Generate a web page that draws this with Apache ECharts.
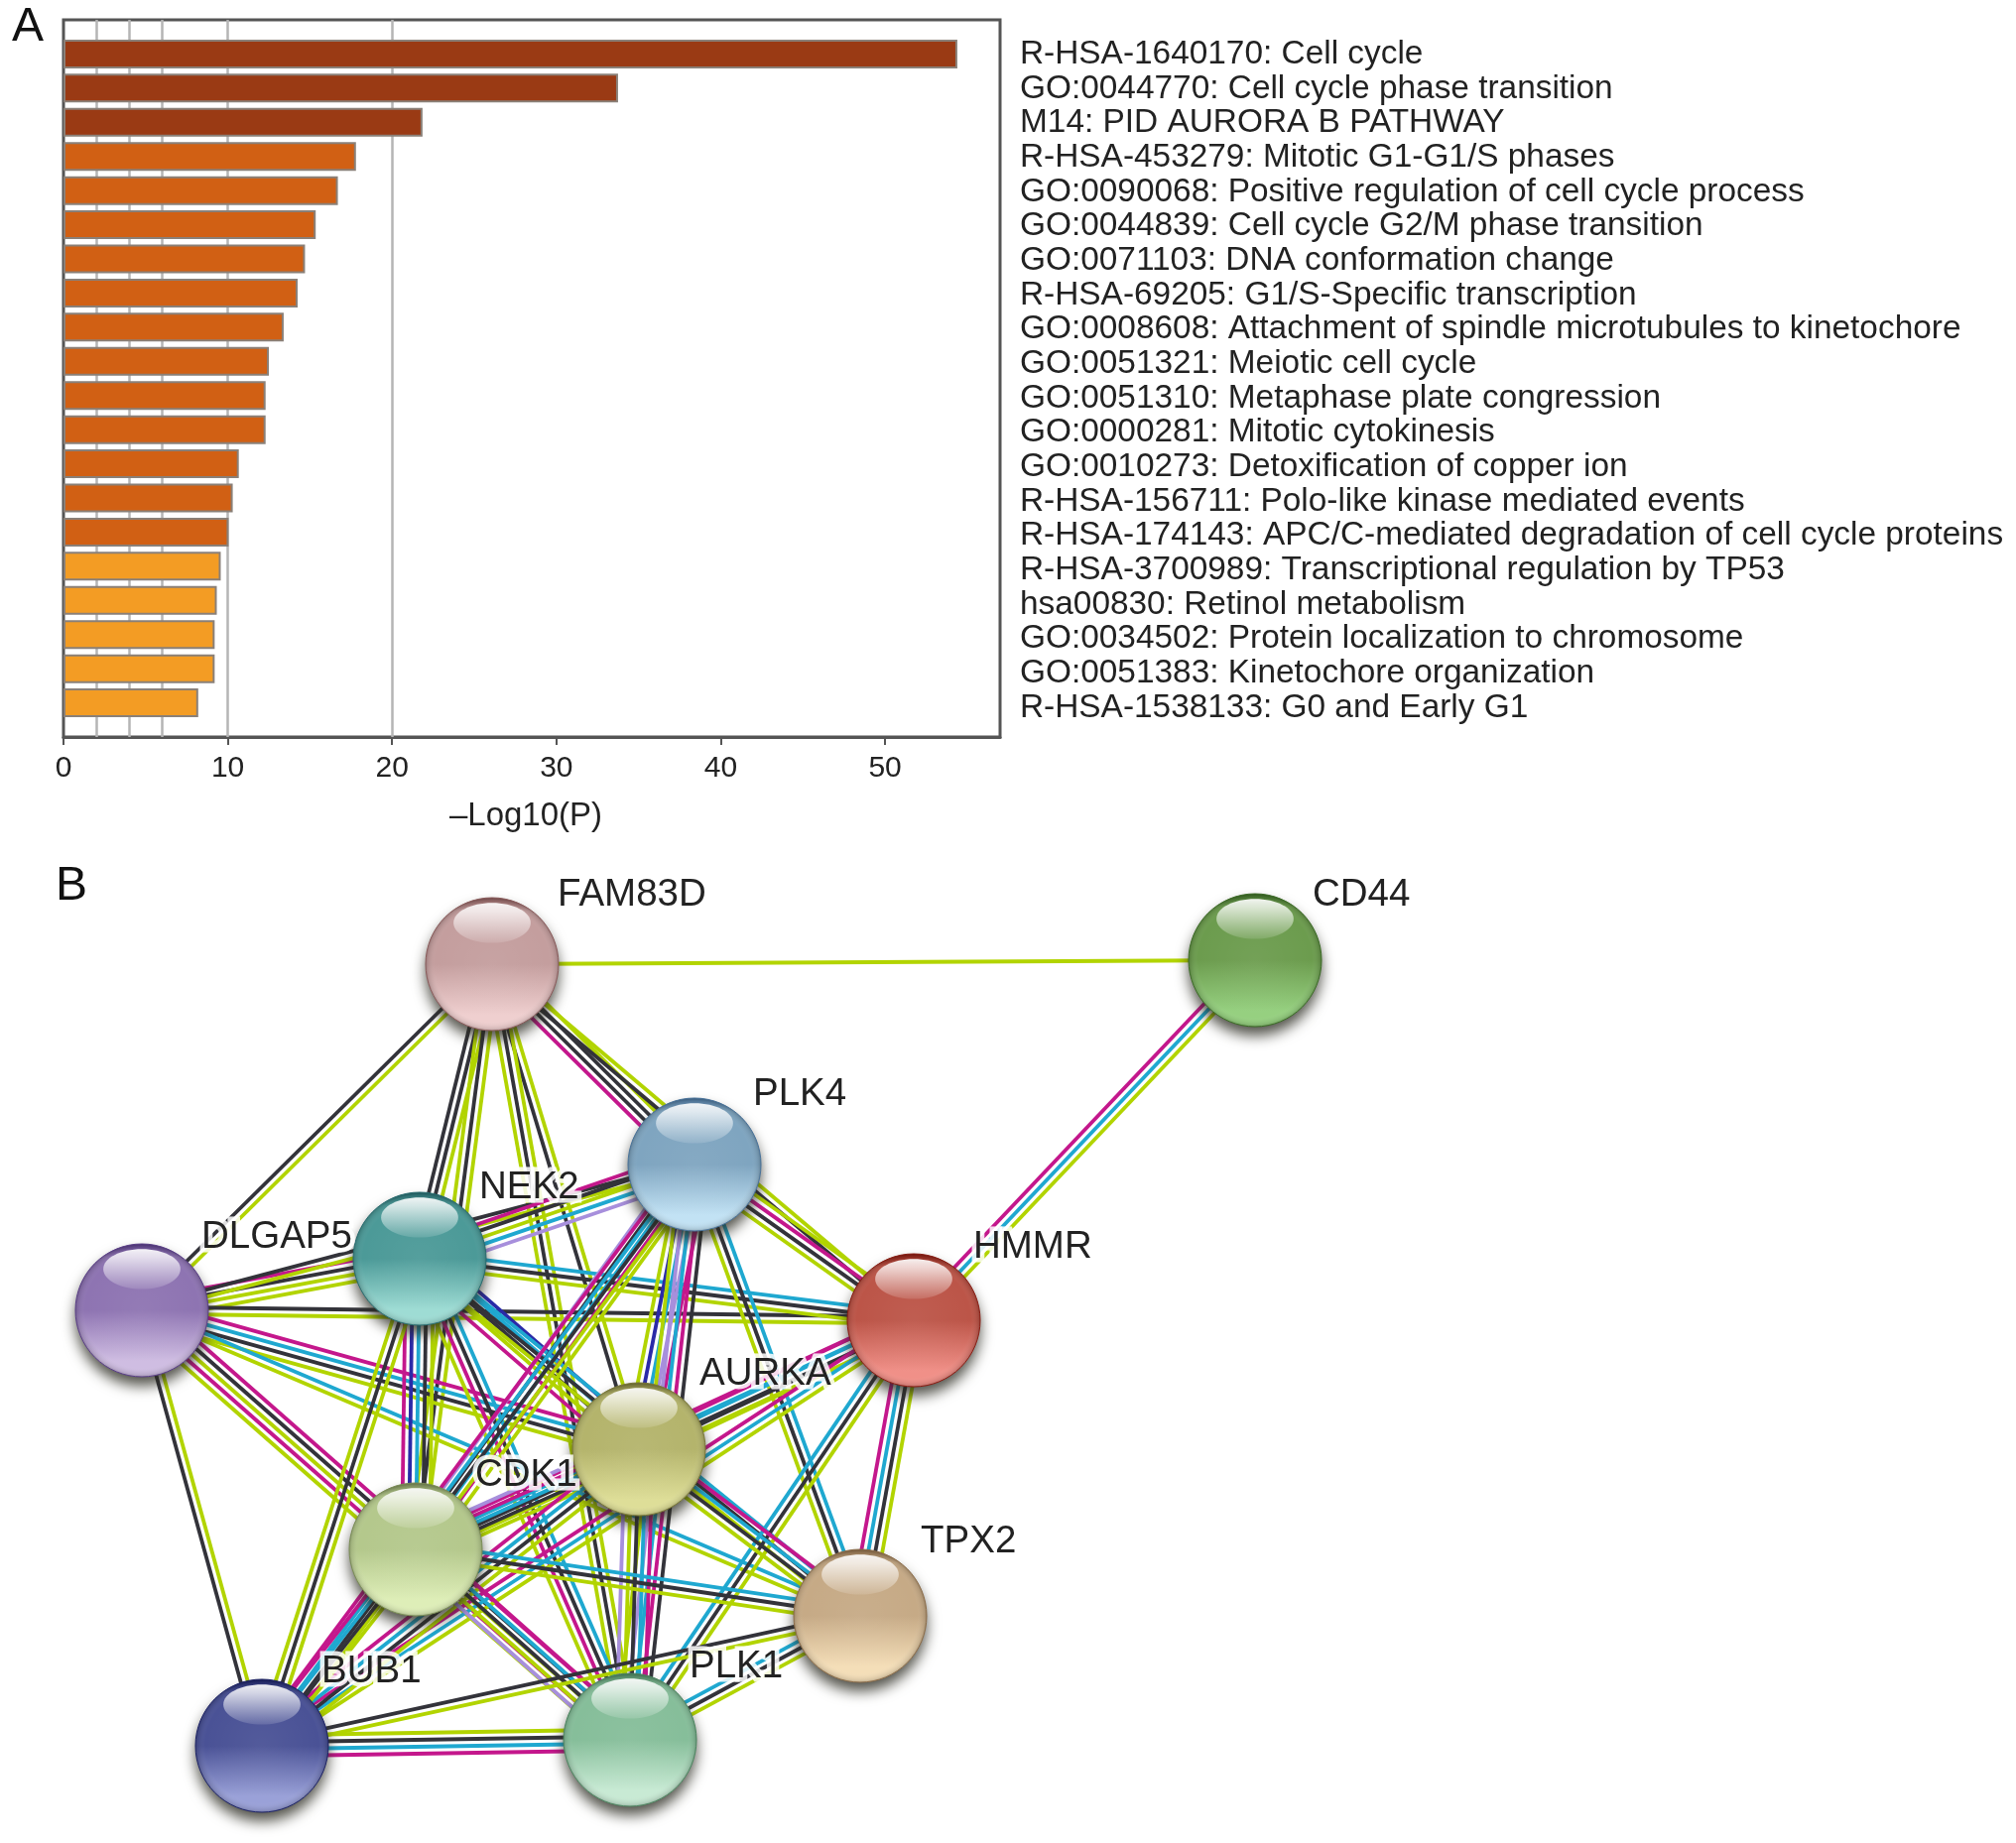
<!DOCTYPE html>
<html>
<head>
<meta charset="utf-8">
<style>html,body{margin:0;padding:0;background:#fff}#c{width:2032px;height:1858px}</style>
<script src="https://cdn.jsdelivr.net/npm/echarts@6/dist/echarts.min.js"></script>
</head>
<body>
<div id="c"></div>
<script>
// Panel A data
const terms = [
 'R-HSA-1640170: Cell cycle','GO:0044770: Cell cycle phase transition','M14: PID AURORA B PATHWAY',
 'R-HSA-453279: Mitotic G1-G1/S phases','GO:0090068: Positive regulation of cell cycle process',
 'GO:0044839: Cell cycle G2/M phase transition','GO:0071103: DNA conformation change',
 'R-HSA-69205: G1/S-Specific transcription','GO:0008608: Attachment of spindle microtubules to kinetochore',
 'GO:0051321: Meiotic cell cycle','GO:0051310: Metaphase plate congression','GO:0000281: Mitotic cytokinesis',
 'GO:0010273: Detoxification of copper ion','R-HSA-156711: Polo-like kinase mediated events',
 'R-HSA-174143: APC/C-mediated degradation of cell cycle proteins','R-HSA-3700989: Transcriptional regulation by TP53',
 'hsa00830: Retinol metabolism','GO:0034502: Protein localization to chromosome','GO:0051383: Kinetochore organization',
 'R-HSA-1538133: G0 and Early G1'];
const logP = [54.4,33.75,21.85,17.8,16.7,15.35,14.7,14.25,13.4,12.5,12.3,12.3,10.67,10.3,10.05,9.57,9.33,9.2,9.2,8.2];
const barTier = [0,0,0,1,1,1,1,1,1,1,1,1,1,1,1,2,2,2,2,2];
const refLines = [2,4,6,10,20];

// Panel B data
const genes = ['FAM83D','CD44','PLK4','NEK2','DLGAP5','HMMR','AURKA','CDK1','TPX2','BUB1','PLK1'];
const geneX = [496,1265,700,423,143,921,644,419,867,264,635];
const geneY = [972,968,1174,1269,1321,1331,1461,1562,1629,1760,1754];
const edges = [
 ['FAM83D','CD44','g'],['CD44','HMMR','gcm'],
 ['FAM83D','DLGAP5','gk'],['FAM83D','NEK2','gkk'],['FAM83D','CDK1','gkg'],['FAM83D','AURKA','gk'],
 ['FAM83D','PLK1','gkg'],['FAM83D','PLK4','gkkm'],['FAM83D','HMMR','gk'],
 ['DLGAP5','NEK2','mkgg'],['DLGAP5','PLK4','kg'],['DLGAP5','HMMR','kg'],['DLGAP5','AURKA','mckg'],
 ['DLGAP5','TPX2','cg'],['DLGAP5','PLK1','mkgmg'],['DLGAP5','BUB1','gk'],
 ['NEK2','PLK4','mkgcp'],['NEK2','HMMR','ckg'],['NEK2','AURKA','bckgm'],['NEK2','CDK1','gkcbm'],
 ['NEK2','TPX2','ckg'],['NEK2','PLK1','ckmg'],['NEK2','BUB1','gkg'],
 ['PLK4','HMMR','gmkg'],['PLK4','AURKA','mpcbg'],['PLK4','CDK1','gmckp'],['PLK4','TPX2','ckg'],
 ['PLK4','PLK1','kmcpg'],['PLK4','BUB1','gkcm'],
 ['HMMR','AURKA','gkcm'],['HMMR','CDK1','gkcm'],['HMMR','TPX2','gkcm'],['HMMR','PLK1','gkc'],['HMMR','BUB1','gcm'],
 ['AURKA','CDK1','gkcmp'],['AURKA','TPX2','mckg'],['AURKA','PLK1','mckgp'],['AURKA','BUB1','gkcm'],
 ['CDK1','TPX2','ckg'],['CDK1','PLK1','mckgp'],['CDK1','BUB1','gkcm'],
 ['TPX2','PLK1','gkc'],['TPX2','BUB1','gk'],['BUB1','PLK1','gkcm']
];

// Styles
const tierColors = ['#9A3A14','#D16014','#F39C24'];
const evidenceColors = {m:'#C4178C',c:'#1FA8D0',k:'#33333A',g:'#B2D400',p:'#A78FDC',b:'#2A2AA8'};
const nodeStyles = [
 ['#C49E9E','#EFCFCF','#8A5A5A'],['#6C9C4E','#96D080','#3C6C26'],['#7FA5C0','#C2E2F4','#48729A'],
 ['#4C9A98','#9EDCD4','#286C70'],['#8E74B2','#CFBDE2','#5A3E88'],['#BC5548','#F09088','#8A1C12'],
 ['#B4B46C','#DEDE98','#7A7838'],['#B4C88C','#DEEEB8','#7A8C56'],['#C6AA86','#F4DEB8','#8C6C48'],
 ['#4A5296','#9AA1D8','#1C2266'],['#86BE9A','#C8EAD4','#4C8660']
];
const labelPos = [[562,902],[1323,902],[759,1103],[483,1197],[203,1247],[981,1257],[705,1385],[479,1487],[928,1554],[324,1685],[695,1680]];
const R = 67;

const lineRows = [];
edges.forEach(function(e){
  const a = genes.indexOf(e[0]), b = genes.indexOf(e[1]);
  const kinds = e[2].split('');
  kinds.forEach(function(k,i){
    lineRows.push([geneX[a],geneY[a],geneX[b],geneY[b],i-(kinds.length-1)/2,k]);
  });
});
const nodeRows = genes.map(function(g,i){return [geneX[i],geneY[i],i];});

const option = {
  animation:false,
  backgroundColor:'#fff',
  textStyle:{fontFamily:'"Liberation Sans",Arial,sans-serif'},
  grid:[
    {left:64,top:20,width:944,height:723,show:true,borderColor:'#555',borderWidth:3,backgroundColor:'#fff'},
    {left:0,top:0,width:2032,height:1858},
    {left:64,top:20,width:944,height:728}
  ],
  xAxis:[
    {type:'value',gridIndex:0,min:0,max:57,interval:10,splitLine:{show:false},
     axisLine:{show:true,lineStyle:{color:'#555',width:3}},
     axisTick:{show:true,length:8,lineStyle:{color:'#555',width:2}},
     axisLabel:{color:'#222',fontSize:30,margin:17,showMaxLabel:false,formatter:function(v){return v>50?'':String(v);}},
     name:'–Log10(P)',nameLocation:'middle',nameGap:63,nameTextStyle:{color:'#222',fontSize:33,padding:[0,12,0,0]}},
    {type:'value',gridIndex:1,min:0,max:2032,show:false},
    {type:'value',gridIndex:2,min:0,max:1,show:false}
  ],
  yAxis:[
    {type:'category',gridIndex:0,inverse:true,boundaryGap:false,data:[''].concat(terms,['']),
     axisLine:{show:false},axisTick:{show:false},splitLine:{show:false},axisLabel:{show:false}},
    {type:'value',gridIndex:1,min:0,max:1858,inverse:true,show:false},
    {type:'category',gridIndex:2,inverse:true,boundaryGap:false,data:[''].concat(terms,['']),position:'right',
     axisLine:{show:false},axisTick:{show:false},splitLine:{show:false},
     axisLabel:{color:'#222',fontSize:33.4,margin:20,interval:0,align:'left',hideOverlap:false}}
  ],
  graphic:[
    {type:'text',left:12,top:4,style:{text:'A',fill:'#111',font:'48px "Liberation Sans",Arial,sans-serif'}},
    {type:'text',left:56,top:870,style:{text:'B',fill:'#111',font:'48px "Liberation Sans",Arial,sans-serif'}}
  ],
  series:[
    {type:'bar',xAxisIndex:0,yAxisIndex:0,barWidth:29,z:3,
     data:[null].concat(logP.map(function(v,i){
        return {value:v,itemStyle:{color:tierColors[barTier[i]],borderColor:'#8a8078',borderWidth:2}};
     }),[null]),
     markLine:{silent:true,symbol:'none',z:1,label:{show:false},
       lineStyle:{color:'#b5b5b5',width:2.5,type:'solid'},
       data:refLines.map(function(v){return {xAxis:v};})}},
    {type:'custom',xAxisIndex:1,yAxisIndex:1,coordinateSystem:'cartesian2d',clip:false,z:5,silent:true,
     encode:{x:[0,2],y:[1,3]},
     data:lineRows,
     renderItem:function(params,api){
       const p1 = api.coord([api.value(0),api.value(1)]);
       const p2 = api.coord([api.value(2),api.value(3)]);
       const dx = p2[0]-p1[0], dy = p2[1]-p1[1], len = Math.hypot(dx,dy)||1;
       const off = lineRows[params.dataIndex][4]*7;
       const nx = -dy/len*off, ny = dx/len*off;
       return {type:'line',shape:{x1:p1[0]+nx,y1:p1[1]+ny,x2:p2[0]+nx,y2:p2[1]+ny},
               style:{stroke:evidenceColors[lineRows[params.dataIndex][5]],lineWidth:3.8}};
     }},
    {type:'custom',xAxisIndex:1,yAxisIndex:1,coordinateSystem:'cartesian2d',clip:false,z:6,silent:true,
     encode:{x:0,y:1},
     data:nodeRows,
     renderItem:function(params,api){
       const c = api.coord([api.value(0),api.value(1)]);
       const s = nodeStyles[api.value(2)];
       return {type:'group',children:[
         {type:'circle',shape:{cx:c[0],cy:c[1],r:R},
          style:{fill:{type:'linear',x:0,y:0,x2:0,y2:1,colorStops:[{offset:0,color:s[2]},{offset:0.1,color:s[0]},{offset:0.5,color:s[0]},{offset:0.88,color:s[1]},{offset:1,color:s[1]}]},
                 shadowBlur:14,shadowOffsetY:9,shadowColor:'rgba(40,40,30,0.8)'}},
         {type:'circle',shape:{cx:c[0],cy:c[1],r:R},
          style:{fill:{type:'radial',x:0.5,y:0.5,r:0.5,colorStops:[{offset:0,color:'rgba(255,255,255,0.05)'},{offset:0.85,color:'rgba(255,255,255,0)'},{offset:0.96,color:'rgba(0,0,0,0.1)'},{offset:1,color:'rgba(0,0,0,0.25)'}]},
                 stroke:s[2],lineWidth:1}},
         {type:'ellipse',shape:{cx:c[0],cy:c[1]-R*0.62,rx:R*0.58,ry:R*0.30},
          style:{fill:{type:'linear',x:0,y:0,x2:0,y2:1,colorStops:[{offset:0,color:'rgba(255,255,255,0.92)'},{offset:1,color:'rgba(255,255,255,0.12)'}]}}}
       ]};
     }},
    {type:'custom',xAxisIndex:1,yAxisIndex:1,coordinateSystem:'cartesian2d',clip:false,z:7,silent:true,
     encode:{x:0,y:1},
     data:nodeRows,
     renderItem:function(params,api){
       const i = api.value(2);
       const p = labelPos[i];
       return {type:'text',style:{text:genes[i],x:p[0],y:p[1],fill:'#222',
         font:'38.5px "Liberation Sans",Arial,sans-serif',verticalAlign:'middle',align:'left',
         stroke:'rgba(255,255,255,0.85)',lineWidth:9}};
     }}
  ]
};
const chart = echarts.init(document.getElementById('c'),null,{renderer:'canvas'});
chart.setOption(option);
</script>
</body>
</html>
